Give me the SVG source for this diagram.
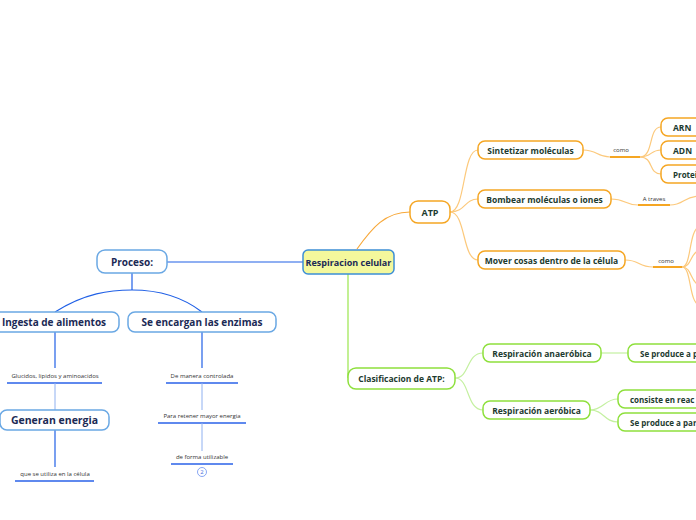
<svg xmlns="http://www.w3.org/2000/svg" width="696" height="520" viewBox="0 0 696 520">
<style>
.nt{font-family:"Open Sans","Noto Sans",sans-serif;font-weight:700;fill:#1d3b2f;dominant-baseline:central}
.bt{font-family:"Open Sans","Noto Sans",sans-serif;font-weight:700;fill:#1b2a55;dominant-baseline:central}
.lt{font-family:"Open Sans","Noto Sans",sans-serif;font-size:6px;fill:#333;text-anchor:middle}
.on{fill:#fff;stroke:#f5a623;stroke-width:1.5}
.gn{fill:#fff;stroke:#8ee03c;stroke-width:1.5}
.bn{fill:#fff;stroke:#6aa8e4;stroke-width:1.5}
.oc{fill:none;stroke:#fcc97c;stroke-width:1.2}
.oc2{fill:none;stroke:#f7a83a;stroke-width:1.2}
.gc{fill:none;stroke:#c4f0a0;stroke-width:1.2}
.gc2{fill:none;stroke:#9ae64c;stroke-width:1.2}
.bc{fill:none;stroke:#2060e6;stroke-width:1.2}
.bcl{fill:none;stroke:#8fb0f0;stroke-width:1}
.ou{stroke:#f5a623;stroke-width:2}
.bu{stroke:#2a62e8;stroke-width:1.5}
</style>
<rect width="696" height="520" fill="#fff"/>
<g id="connectors">
<path class="oc2" d="M357,249 C372,228 385,212 410,212"/>
<path class="gc2" d="M348,274 L348,378"/>
<path class="bc" d="M167,262 L303,262"/>
<path class="bc" d="M132,273 L132,290"/>
<path class="bc" d="M55,312 C85,293 110,290 132,290 C155,290 180,295 202,312"/>
<path class="oc" d="M450,212 C466,212 462,150 478,150"/>
<path class="oc" d="M450,212 C466,212 464,199 478,199"/>
<path class="oc" d="M450,212 C466,212 462,260 478,260"/>
<path class="oc" d="M583,150 C598,150 596,157 610,157"/>
<line class="ou" x1="610" y1="157" x2="640" y2="157"/>
<path class="oc" d="M640,157 C654,157 648,127 661,127"/>
<path class="oc" d="M640,157 C652,157 650,150 661,150"/>
<path class="oc" d="M640,157 C654,157 648,174 661,174"/>
<path class="oc" d="M611,199 C626,199 624,205 638,205"/>
<line class="ou" x1="638" y1="205" x2="670" y2="205"/>
<path class="oc" d="M670,205 C684,205 684,196 700,196"/>
<path class="oc" d="M625,260 C640,260 638,267 653,267"/>
<line class="ou" x1="653" y1="267" x2="682" y2="267"/>
<path class="oc" d="M682,267 C692,267 688,230 700,226"/>
<path class="oc" d="M682,267 C692,267 690,252 700,250"/>
<path class="oc" d="M682,267 C692,267 690,282 700,286"/>
<path class="oc" d="M682,267 C692,267 688,302 700,306"/>
<path class="gc" d="M455,378 C470,378 466,353 483,353"/>
<path class="gc" d="M455,378 C470,378 466,410 483,410"/>
<path class="gc" d="M601,353 L628,353"/>
<path class="gc" d="M590,410 C604,410 604,399 618,399"/>
<path class="gc" d="M590,410 C604,410 604,422 618,422"/>
<path class="bc" d="M55,332 L55,368"/>
<line class="bu" x1="7" y1="383" x2="102" y2="383"/>
<path class="bcl" d="M55,383 L55,410"/>
<path class="bc" d="M55,430 L55,467"/>
<line class="bu" x1="15" y1="481" x2="94" y2="481"/>
<path class="bc" d="M202,332 L202,368"/>
<line class="bu" x1="166" y1="383" x2="238" y2="383"/>
<path class="bcl" d="M202,383 L202,410"/>
<line class="bu" x1="158" y1="423" x2="246" y2="423"/>
<path class="bcl" d="M202,423 L202,451"/>
<line class="bu" x1="171" y1="464" x2="233" y2="464"/>
</g>
<g id="labels">
<text class="lt" x="621" y="152">como</text>
<text class="lt" x="654" y="201">A traves</text>
<text class="lt" x="666" y="263">como</text>
<text class="lt" x="55" y="378">Glucidos, lipidos y aminoacidos</text>
<text class="lt" x="55" y="476">que se utiliza en la célula</text>
<text class="lt" x="202" y="378">De manera controlada</text>
<text class="lt" x="202" y="418">Para retener mayor energia</text>
<text class="lt" x="202" y="459">de forma utilizable</text>
<circle cx="202" cy="472" r="4.5" fill="#fff" stroke="#6a8ff0" stroke-width="0.8"/>
<text class="lt" x="202" y="474.2" style="font-size:6px;fill:#4a70e0">2</text>
</g>
<g id="n-central"><rect x="303" y="250" width="91" height="24" rx="5" fill="#f4f89c" stroke="#3d8fd5" stroke-width="1.5"/><text class="nt" x="348.5" y="262" text-anchor="middle" style="font-size:9px;fill:#1b2a55">Respiracion celular</text></g>
<g id="n-atp"><rect class="on" x="410" y="201" width="40" height="22" rx="8"/><text class="nt" x="430" y="212" text-anchor="middle" font-size="9">ATP</text></g>
<g id="n-sint"><rect class="on" x="478" y="141" width="105" height="18" rx="7"/><text class="nt" x="530.5" y="150" text-anchor="middle" font-size="8.5">Sintetizar moléculas</text></g>
<g id="n-bomb"><rect class="on" x="478" y="190" width="133" height="18" rx="7"/><text class="nt" x="544.5" y="199" text-anchor="middle" font-size="8.5">Bombear moléculas o iones</text></g>
<g id="n-mover"><rect class="on" x="478" y="251" width="147" height="18" rx="7"/><text class="nt" x="551.5" y="260" text-anchor="middle" font-size="8.5">Mover cosas dentro de la célula</text></g>
<g id="n-arn"><rect class="on" x="661" y="118" width="50" height="18" rx="7"/><text class="nt" x="673" y="127" font-size="8.5">ARN</text></g>
<g id="n-adn"><rect class="on" x="661" y="141" width="50" height="18" rx="7"/><text class="nt" x="673" y="150" font-size="8.5">ADN</text></g>
<g id="n-prot"><rect class="on" x="661" y="165" width="50" height="18" rx="7"/><text class="nt" x="673" y="174" font-size="8">Protei</text></g>
<g id="n-clas"><rect class="gn" x="348" y="368" width="107" height="21" rx="8"/><text class="nt" x="401.5" y="378.5" text-anchor="middle" font-size="8.5">Clasificacion de ATP:</text></g>
<g id="n-anaer"><rect class="gn" x="483" y="344" width="118" height="18" rx="7"/><text class="nt" x="542" y="353" text-anchor="middle" font-size="8.5">Respiración anaeróbica</text></g>
<g id="n-aer"><rect class="gn" x="483" y="401" width="107" height="18" rx="7"/><text class="nt" x="536.5" y="410" text-anchor="middle" font-size="8.5">Respiración aeróbica</text></g>
<g id="n-seprod1"><rect class="gn" x="628" y="344" width="90" height="18" rx="7"/><text class="nt" x="640" y="353" font-size="8">Se produce a p</text></g>
<g id="n-consiste"><rect class="gn" x="618" y="390" width="90" height="18" rx="7"/><text class="nt" x="630" y="399" font-size="8">consiste en reac</text></g>
<g id="n-seprod2"><rect class="gn" x="618" y="413" width="90" height="18" rx="7"/><text class="nt" x="630" y="422" font-size="8">Se produce a par</text></g>
<g id="n-proceso"><rect class="bn" x="97" y="250" width="70" height="23" rx="8"/><text class="bt" x="132" y="261.5" text-anchor="middle" font-size="10">Proceso:</text></g>
<g id="n-ingesta"><rect class="bn" x="-12" y="312" width="131" height="20" rx="7"/><text class="bt" x="54" y="322" text-anchor="middle" font-size="10">Ingesta de alimentos</text></g>
<g id="n-enzimas"><rect class="bn" x="128" y="312" width="148" height="20" rx="7"/><text class="bt" x="202" y="322" text-anchor="middle" font-size="10">Se encargan las enzimas</text></g>
<g id="n-generan"><rect class="bn" x="0" y="410" width="109" height="20" rx="7"/><text class="bt" x="54.5" y="420" text-anchor="middle" font-size="10.5">Generan energia</text></g>
</svg>
